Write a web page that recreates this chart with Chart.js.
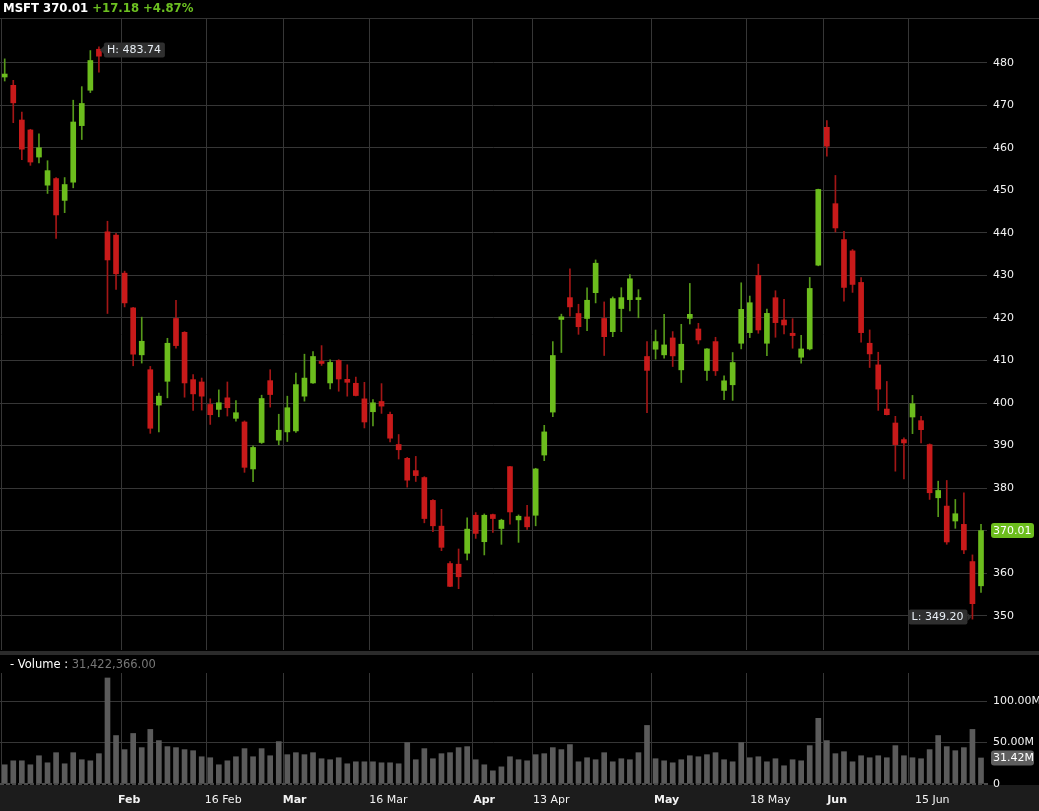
<!DOCTYPE html>
<html><head><meta charset="utf-8">
<script src="https://cdn.jsdelivr.net/npm/chart.js@4.4.1/dist/chart.umd.min.js"></script>
<style>
html,body{margin:0;padding:0;background:#000;width:1039px;height:811px;overflow:hidden;font-family:"DejaVu Sans",Verdana,sans-serif;}
#hdr{position:absolute;left:3px;top:2px;font:bold 11.7px "DejaVu Sans";color:#fff;white-space:pre;line-height:13px}
#hdr .g{color:#6cc021}
#hline{position:absolute;left:0;top:18px;width:1039px;height:1px;background:#333}
#pc{position:absolute;left:0;top:0}
#vc{position:absolute;left:0;top:651px}
#vlab{position:absolute;left:10px;top:658px;font:11.5px "DejaVu Sans";color:#fff;white-space:pre;line-height:13px}
#vlab .v{color:#777}
</style></head>
<body>
<canvas id="pc" width="1039" height="651"></canvas>
<canvas id="vc" width="1039" height="160"></canvas>
<div id="hline"></div>
<div id="hdr">MSFT 370.01 <span class="g">+17.18 +4.87%</span></div>
<div id="vlab">- Volume : <span class="v">31,422,366.00</span></div>
<script>
// ---- data (Jan 12 – Jun 26, 2026, daily) ----
const opens  = [476.66,474.71,466.55,464.21,457.84,451.23,452.78,447.65,451.93,465.23,473.55,483.19,440.26,439.49,430.54,422.38,411.34,407.84,399.52,405.12,419.89,416.63,405.51,404.96,399.67,398.51,401.23,396.41,395.55,384.51,390.73,405.27,391.28,393.22,393.45,401.62,404.73,409.78,404.73,410.02,405.58,404.65,400.99,397.96,400.37,397.34,390.26,387.00,384.12,382.49,377.12,371.06,362.27,362.11,364.68,373.62,367.40,373.78,370.51,385.05,372.53,373.23,373.62,387.78,397.88,419.66,424.79,421.06,419.89,425.96,419.89,416.78,422.22,424.32,424.32,410.95,412.66,411.33,415.31,407.81,419.92,417.42,407.66,414.45,402.97,404.30,414.06,416.56,430.00,414.06,424.77,419.53,416.41,410.78,412.73,432.42,464.84,446.88,438.44,435.78,428.36,414.06,408.98,398.59,395.31,391.41,396.72,395.86,390.23,377.73,375.78,372.27,371.48,362.73,357.03];
const highs  = [480.93,475.88,468.41,464.37,463.28,456.98,453.00,453.02,471.21,474.40,482.88,483.74,442.75,439.88,431.01,422.50,420.20,408.62,402.33,415.23,424.17,416.80,406.67,405.89,401.00,403.10,404.96,400.61,395.80,389.95,401.85,407.84,397.37,401.62,407.07,411.49,412.11,413.51,410.17,410.20,409.00,406.13,404.88,400.84,404.57,397.88,392.60,387.23,387.46,382.70,377.30,375.02,362.74,365.69,373.00,374.25,373.93,373.90,372.69,385.10,373.70,375.96,384.67,394.77,414.45,420.90,431.56,423.23,427.12,433.65,423.78,424.95,427.12,430.23,426.66,414.45,417.17,420.86,416.80,418.52,428.13,418.75,412.80,415.47,406.41,411.88,428.28,425.16,432.66,422.11,426.41,424.38,419.84,415.94,429.53,450.30,466.41,453.52,440.39,436.10,429.53,417.19,411.95,405.08,396.88,391.80,401.80,396.88,390.40,381.64,381.80,377.34,378.91,364.30,371.48];
const lows   = [475.72,465.93,457.22,455.89,456.44,449.28,438.71,444.77,450.61,461.96,473.00,477.82,421.06,426.73,422.61,408.77,409.40,392.88,393.20,401.23,412.89,401.38,398.27,398.35,394.98,396.77,396.95,395.76,383.71,381.50,390.50,399.05,390.19,390.96,393.07,400.45,404.60,408.85,403.33,402.78,401.62,401.70,394.15,394.62,397.57,390.89,386.84,380.23,381.56,371.84,369.74,365.30,356.84,356.36,363.13,368.18,364.29,369.57,366.78,371.53,367.25,370.29,371.14,386.45,396.80,411.88,420.44,416.16,417.01,423.55,411.18,415.61,416.78,421.68,420.05,397.73,410.33,410.55,408.59,404.84,418.59,413.91,405.31,406.48,400.78,400.63,412.73,415.39,416.41,411.17,415.47,416.25,412.89,409.38,412.50,432.27,458.05,440.23,423.98,426.02,414.30,408.36,398.28,397.20,383.98,382.19,392.81,390.63,377.34,373.28,366.80,370.55,364.61,349.20,355.47];
const closes = [477.36,470.59,459.70,456.67,460.02,454.65,444.23,451.38,466.08,470.44,480.54,481.56,433.65,430.39,423.55,411.49,414.53,394.07,401.62,414.06,413.51,404.73,402.16,401.62,397.26,400.07,398.90,397.73,384.89,389.56,401.07,402.00,393.61,398.90,404.34,405.87,410.95,409.32,409.55,405.66,404.88,401.77,395.55,400.06,399.28,391.74,389.02,381.87,382.95,372.85,371.14,366.08,356.90,359.16,370.36,369.35,373.62,372.85,372.46,374.40,373.39,370.90,384.51,393.22,411.18,420.28,422.61,417.95,424.17,432.88,415.61,424.56,424.79,429.22,424.63,407.68,414.45,413.67,411.09,413.83,420.86,414.84,412.73,407.58,405.23,409.53,422.03,423.59,417.19,421.09,418.91,418.36,415.86,412.73,426.95,450.23,460.39,441.17,427.19,427.89,416.56,411.56,403.28,397.27,390.23,390.63,399.84,393.75,378.91,379.45,367.34,373.98,365.47,352.83,370.01];
const volumesM = [23.2,28.0,28.0,23.2,34.1,25.6,37.8,24.4,37.8,29.3,28.0,36.6,128.0,58.5,41.5,61.0,43.9,65.9,52.4,45.1,43.9,41.5,40.2,32.9,31.7,23.2,28.0,32.9,42.7,32.9,42.7,34.1,51.2,35.4,37.8,35.4,37.8,30.5,29.3,31.7,24.4,26.8,26.8,26.8,25.6,25.6,24.4,50.0,29.3,42.7,30.5,36.6,37.8,43.9,45.1,29.3,23.2,15.9,20.7,32.9,29.3,28.0,35.4,36.6,43.9,41.5,47.6,26.8,31.7,29.3,37.8,26.8,30.5,29.3,37.8,70.7,30.5,28.0,25.6,29.3,34.1,32.9,35.4,37.8,29.3,26.8,50.0,31.7,32.9,26.8,30.5,22.0,29.3,28.0,46.3,79.3,52.4,36.6,39.0,26.8,34.1,31.7,34.1,31.7,46.3,34.1,31.7,30.5,41.5,58.5,45.1,40.2,43.9,65.9,31.42];
// index of first trading day of each labelled period
const tickIndex  = [14,24,33,43,55,62,76,87,96,106];
const tickLabels = ['Feb','16 Feb','Mar','16 Mar','Apr','13 Apr','May','18 May','Jun','15 Jun'];
const tickBold   = [true,false,true,false,true,false,true,false,true,false];
const priceTicks = [350,360,370,380,390,400,410,420,430,440,450,460,470,480];
const volumeTicks = [0,50,100];
const lastPrice = 370.01, lastVolume = 31.42;
const highVal = 483.74, highIdx = 11, lowVal = 349.20, lowIdx = 113;

// ---- style ----
const GREEN='#6cbd1d', RED='#c81a1a', GWICK='#56991a', RWICK='#a31616', GRID='#363636';
const FONT='"DejaVu Sans", Verdana, sans-serif';
const X_MIN=-0.55, X_MAX=114.7, PX_PER_DAY=987/(X_MAX-X_MIN);
const labelNudgePx=[-3,-2,-1,0,1,1,2,4,4,6];
const gridVals=[-0.35].concat(tickIndex.map(i=>i-0.42));
const labelVals=tickIndex.map((i,k)=>i-0.42+labelNudgePx[k]/PX_PER_DAY);
const idx = closes.map((_,i)=>i);
const up = idx.map(i=>closes[i]>=opens[i]);

function roundRect(ctx,x,y,w,h,r){ctx.beginPath();ctx.moveTo(x+r,y);ctx.lineTo(x+w-r,y);ctx.quadraticCurveTo(x+w,y,x+w,y+r);ctx.lineTo(x+w,y+h-r);ctx.quadraticCurveTo(x+w,y+h,x+w-r,y+h);ctx.lineTo(x+r,y+h);ctx.quadraticCurveTo(x,y+h,x,y+h-r);ctx.lineTo(x,y+r);ctx.quadraticCurveTo(x,y,x+r,y);ctx.closePath();}

const priceOverlay={id:'priceOverlay',afterDraw(chart){
  const c=chart.ctx, xs=chart.scales.x, ys=chart.scales.y;
  c.save();
  c.font='11px '+FONT; c.textBaseline='middle';
  // high label
  let hx=xs.getPixelForValue(highIdx), hy=ys.getPixelForValue(highVal)+3;
  let t='H: '+highVal.toFixed(2), w=c.measureText(t).width+7;
  c.fillStyle='#2f2f2f';
  roundRect(c,hx+5,hy-7.5,w,15,2);c.fill();
  c.beginPath();c.moveTo(hx+1,hy);c.lineTo(hx+5,hy-4);c.lineTo(hx+5,hy+4);c.closePath();c.fill();
  c.fillStyle='#e8eef4';c.textAlign='left';c.fillText(t,hx+8,hy+0.5);
  // low label
  let lx=xs.getPixelForValue(lowIdx), ly=ys.getPixelForValue(lowVal)-2;
  t='L: '+lowVal.toFixed(2); w=c.measureText(t).width+7;
  c.fillStyle='#2f2f2f';
  roundRect(c,lx-5-w,ly-7.5,w,15,2);c.fill();
  c.beginPath();c.moveTo(lx-1,ly);c.lineTo(lx-5,ly-4);c.lineTo(lx-5,ly+4);c.closePath();c.fill();
  c.fillStyle='#e8eef4';c.fillText(t,lx-2-w,ly+0.5);
  // last price box
  let py=ys.getPixelForValue(lastPrice);
  c.fillStyle=GREEN; roundRect(c,991,py-7.5,43,15,3); c.fill();
  c.fillStyle='#fff'; c.fillText(lastPrice.toFixed(2),993,py+0.5);
  c.restore();
}};

new Chart(document.getElementById('pc'),{
  type:'bar',
  data:{datasets:[
    {label:'body',data:idx.map(i=>({x:i,y:[opens[i],closes[i]]})),backgroundColor:idx.map(i=>up[i]?GREEN:RED),barThickness:5,grouped:false,order:0,minBarLength:2,borderWidth:0},
    {label:'wick',data:idx.map(i=>({x:i,y:[lows[i],highs[i]]})),backgroundColor:idx.map(i=>up[i]?GWICK:RWICK),barThickness:1,grouped:false,order:1,borderWidth:0}
  ]},
  options:{
    responsive:false,animation:false,events:[],
    layout:{padding:{top:19,bottom:1,left:0,right:0}},
    plugins:{legend:{display:false},tooltip:{enabled:false}},
    scales:{
      x:{type:'linear',min:X_MIN,max:X_MAX,offset:false,
        afterBuildTicks:s=>{s.ticks=gridVals.map(v=>({value:v}));},
        afterFit:s=>{s.height=0;s.paddingLeft=0;s.paddingRight=0;},
        ticks:{display:false},grid:{color:GRID,drawTicks:false,offset:false},border:{display:false}},
      y:{position:'right',min:341.94,max:490.3,
        afterBuildTicks:s=>{s.ticks=priceTicks.map(v=>({value:v}));},
        afterFit:s=>{s.width=52;s.paddingTop=0;s.paddingBottom=0;},
        ticks:{color:'#f2f2f2',font:{family:FONT,size:11},padding:6,callback:v=>String(v)},
        grid:{color:GRID,drawTicks:false},border:{display:false}}
    }
  },
  plugins:[priceOverlay]
});

const volOverlay={id:'volOverlay',
  beforeDraw(chart){
    const c=chart.ctx, a=chart.chartArea;
    c.save();
    c.fillStyle='#2b2b2b'; c.fillRect(0,0,chart.width,4);
    c.fillStyle='#1c1c1c'; c.fillRect(0,a.bottom+1,chart.width,chart.height-a.bottom-1);
    c.restore();
  },
  afterDraw(chart){
    const c=chart.ctx, a=chart.chartArea, ys=chart.scales.y;
    c.save();
    c.fillStyle='#4a4a4a';
    for(let x=0;x<a.right;x+=6){c.fillRect(x,a.bottom-1,4,2);}
    c.font='11px '+FONT; c.textBaseline='middle'; c.textAlign='left';
    const vy=ys.getPixelForValue(lastVolume);
    c.fillStyle='#5f5f5f'; roundRect(c,991,vy-7.5,43,15,3); c.fill();
    c.fillStyle='#fff'; c.fillText(lastVolume.toFixed(2)+'M',993,vy+0.5);
    c.restore();
  }
};

new Chart(document.getElementById('vc'),{
  type:'bar',
  data:{datasets:[{label:'Volume',xAxisID:'x',data:idx.map(i=>({x:i,y:volumesM[i]})),backgroundColor:'#5b5b5b',barThickness:5,borderWidth:0}]},
  options:{
    responsive:false,animation:false,events:[],
    layout:{padding:{top:22,bottom:0,left:0,right:0}},
    plugins:{legend:{display:false},tooltip:{enabled:false}},
    scales:{
      x:{type:'linear',position:'bottom',min:X_MIN,max:X_MAX,offset:false,weight:2,
        afterBuildTicks:s=>{s.ticks=gridVals.map(v=>({value:v}));},
        afterFit:s=>{s.height=0;s.paddingLeft=0;s.paddingRight=0;},
        ticks:{display:false},grid:{color:GRID,drawTicks:false,offset:false},border:{display:false}},
      xl:{type:'linear',position:'bottom',min:X_MIN,max:X_MAX,offset:false,weight:1,
        afterBuildTicks:s=>{s.ticks=labelVals.map(v=>({value:v}));},
        afterFit:s=>{s.height=27;s.paddingLeft=0;s.paddingRight=0;},
        ticks:{display:true,autoSkip:false,maxRotation:0,align:'start',padding:10,color:'#f2f2f2',
          font:ctx=>({family:FONT,size:11,weight:tickBold[ctx.index]?'bold':'normal'}),
          callback:(v,i)=>tickLabels[i]},
        grid:{display:false,drawTicks:false},border:{display:false}},
      y:{position:'right',min:0,max:134,
        afterBuildTicks:s=>{s.ticks=volumeTicks.map(v=>({value:v}));},
        afterFit:s=>{s.width=52;s.paddingTop=0;s.paddingBottom=0;},
        ticks:{color:'#f2f2f2',font:{family:FONT,size:11},padding:6,callback:v=>v===0?'0':v.toFixed(2)+'M'},
        grid:{color:ctx=>ctx.tick&&ctx.tick.value===0?'rgba(0,0,0,0)':GRID,drawTicks:false},border:{display:false}}
    }
  },
  plugins:[volOverlay]
});
</script>
</body></html>
